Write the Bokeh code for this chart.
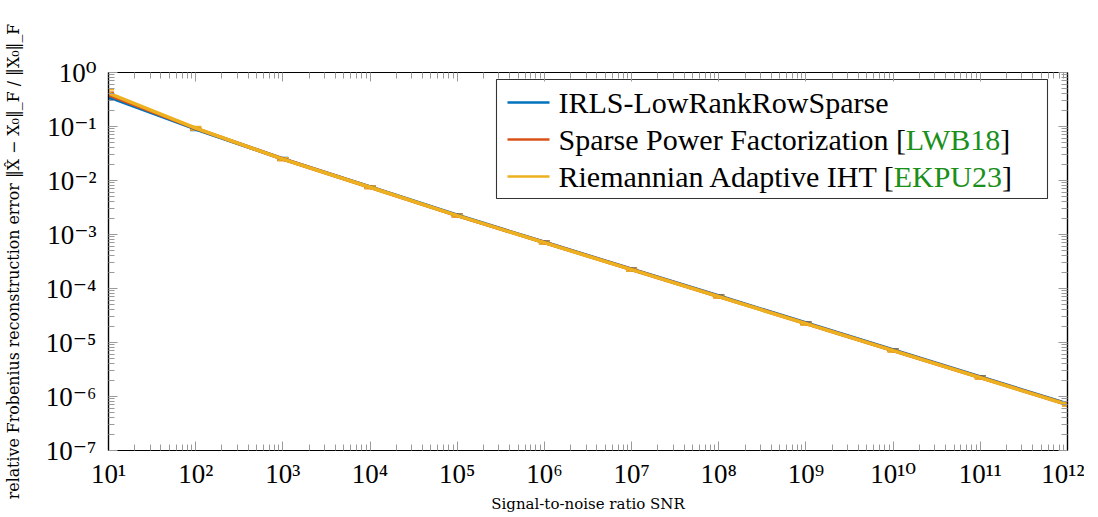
import os
import glob
from bokeh.plotting import figure
from bokeh.models import (Range1d, LogAxis, FixedTicker, CustomJSTickFormatter,
                          Whisker, ColumnDataSource, TeeHead)
from bokeh.core.properties import value
from bokeh.embed import file_html
from bokeh.resources import INLINE

# ---------------- data ----------------
snr = [1e1, 1e2, 1e3, 1e4, 1e5, 1e6, 1e7, 1e8, 1e9, 1e10, 1e11, 1e12]

irls = [0.355, 0.090, 0.0252, 0.0076, 0.00227, 7.2e-4, 2.28e-4, 7.25e-5, 2.3e-5, 7.25e-6, 2.3e-6, 7.3e-7]
irls_err = [0.030, 0.005, 0.0012, 0.0003, 0.00010, 3.0e-5, 1.0e-5, 3.0e-6, 1.0e-6, 3.0e-7, 1.0e-7, 3.0e-8]

spf = [0.385, 0.092, 0.0250, 0.0075, 0.00224, 7.1e-4, 2.25e-4, 7.1e-5, 2.25e-5, 7.1e-6, 2.25e-6, 7.1e-7]
spf_err = [0.040, 0.005, 0.0012, 0.0003, 0.00010, 3.0e-5, 1.0e-5, 3.0e-6, 1.0e-6, 3.0e-7, 1.0e-7, 3.0e-8]

riht = [0.415, 0.093, 0.0249, 0.0075, 0.00223, 7.05e-4, 2.23e-4, 7.05e-5, 2.23e-5, 7.05e-6, 2.23e-6, 7.05e-7]
riht_err = [0.070, 0.006, 0.0013, 0.0003, 0.00010, 3.0e-5, 1.0e-5, 3.0e-6, 1.0e-6, 3.0e-7, 1.0e-7, 3.0e-8]

names = ["IRLS-LowRankRowSparse", "Sparse Power Factorization", "Riemannian Adaptive IHT"]
citations = [None, "LWB18", "EKPU23"]
colors = ["#0072BD", "#D95319", "#EDB120"]

x_ticks = [1e1, 1e2, 1e3, 1e4, 1e5, 1e6, 1e7, 1e8, 1e9, 1e10, 1e11, 1e12]
y_ticks = [1e-7, 1e-6, 1e-5, 1e-4, 1e-3, 1e-2, 1e-1, 1e0]

x_label = "Signal-to-noise ratio SNR"
y_label = "relative Frobenius reconstruction error ‖X̂ − X₀‖_F / ‖X₀‖_F"

# ---------------- layout constants ----------------
FW, FH = 959, 378          # frame size in px
SERIF = "'Liberation Serif', 'DejaVu Serif', serif"
GREEN = "#1a8f1a"


def X(fx):
    return 10 ** (1 + 11 * fx / FW)


def Y(fy):
    return 10 ** (0 - 7 * fy / FH)


def find_font(name):
    for d in ["/usr/share/fonts", "/usr/local/share/fonts",
              os.path.expanduser("~/.fonts"), os.path.expanduser("~/.local/share/fonts")]:
        hits = glob.glob(os.path.join(d, "**", name), recursive=True)
        if hits:
            return hits[0]
    return None


_font_path = find_font("LiberationSerif-Regular.ttf")


def text_width(s, size):
    try:
        from PIL import ImageFont
        if _font_path:
            return ImageFont.truetype(_font_path, size).getlength(s)
    except Exception:
        pass
    return len(s) * 0.46 * size


# ---------------- figure ----------------
p = figure(frame_width=FW, frame_height=FH, x_axis_type="log", y_axis_type="log",
           x_range=Range1d(1e1, 1e12), y_range=Range1d(1e-7, 1e0),
           output_backend="svg", toolbar_location=None,
           min_border_left=106, min_border_right=17, min_border_top=72, min_border_bottom=50)
p.grid.visible = False
p.outline_line_color = "black"
p.outline_line_width = 1.2
p.background_fill_color = "white"
p.border_fill_color = "white"

sup_js = """
const e = Math.round(Math.log10(tick));
const m = {"0":"⁰","1":"¹","2":"²","3":"³","4":"⁴","5":"⁵","6":"⁶","7":"⁷","8":"⁸","9":"⁹","-":"⁻"};
return "10" + String(e).split("").map(c => m[c]).join("");
"""

x_minor = [m * 10 ** k for k in range(1, 12) for m in range(2, 10)]
y_minor = [m * 10.0 ** k for k in range(-7, 0) for m in range(2, 10)]

for ax, major, minor in [(p.xaxis[0], x_ticks, x_minor), (p.yaxis[0], y_ticks, y_minor)]:
    ax.ticker = FixedTicker(ticks=major, minor_ticks=minor)
    ax.formatter = CustomJSTickFormatter(code=sup_js)
    ax.major_label_text_font = SERIF
    ax.major_label_text_font_size = "27px"
    ax.major_label_text_color = "black"
    ax.axis_line_color = "black"
    ax.axis_line_width = 1.2
    ax.major_tick_in = 9
    ax.major_tick_out = 0
    ax.minor_tick_in = 6
    ax.minor_tick_out = 0
    ax.major_tick_line_color = "#9a9a9a"
    ax.minor_tick_line_color = "#9a9a9a"
    ax.axis_label_text_font = "DejaVu Serif"
    ax.axis_label_text_font_style = "normal"
    ax.axis_label_text_color = "black"

p.xaxis[0].axis_label = x_label
p.xaxis[0].axis_label_text_font_size = "15px"
p.xaxis[0].major_label_standoff = 8
p.xaxis[0].axis_label_standoff = 3

p.yaxis[0].axis_label = y_label
p.yaxis[0].axis_label_text_font_size = "15.8px"
p.yaxis[0].major_label_standoff = 12
p.yaxis[0].axis_label_standoff = 20

# mirrored axes (top, right)
for loc, major, minor in [("above", x_ticks, x_minor), ("right", y_ticks, y_minor)]:
    ax = LogAxis(ticker=FixedTicker(ticks=major, minor_ticks=minor),
                 formatter=CustomJSTickFormatter(code="return '';"))
    ax.axis_line_color = "black"
    ax.axis_line_width = 1.2
    ax.major_tick_in = 9
    ax.major_tick_out = 0
    ax.minor_tick_in = 6
    ax.minor_tick_out = 0
    ax.major_tick_line_color = "#9a9a9a"
    ax.minor_tick_line_color = "#9a9a9a"
    ax.major_label_text_font_size = "0px"
    ax.major_label_standoff = 0
    p.add_layout(ax, loc)

# ---------------- series ----------------
for vals, errs, col in [(irls, irls_err, colors[0]), (spf, spf_err, colors[1]), (riht, riht_err, colors[2])]:
    src = ColumnDataSource(dict(x=snr, y=vals,
                                lo=[v - e for v, e in zip(vals, errs)],
                                hi=[v + e for v, e in zip(vals, errs)]))
    w = Whisker(base="x", lower="lo", upper="hi", source=src, dimension="height",
                line_color=col, line_width=2,
                upper_head=TeeHead(size=11, line_color=col, line_width=2),
                lower_head=TeeHead(size=11, line_color=col, line_width=2))
    p.add_layout(w)
    p.line("x", "y", source=src, line_color=col, line_width=3.5)

# ---------------- legend (manual, so citations can be green) ----------------
box_l, box_r, box_t, box_b = 388, 939, 7, 126
row_y = [30, 67, 104]
p.quad(left=[X(box_l)], right=[X(box_r)], top=[Y(box_t)], bottom=[Y(box_b)],
       fill_color="white", line_color="#333333", line_width=1.1)
LEG_SIZE = 30
for i, (nm, cit, col) in enumerate(zip(names, citations, colors)):
    yy = Y(row_y[i])
    p.segment(x0=[X(399)], x1=[X(441)], y0=[yy], y1=[yy], line_color=col, line_width=2.6)
    pieces = [(nm if cit is None else nm + " [", "black")]
    if cit is not None:
        pieces += [(cit, GREEN), ("]", "black")]
    off = 0.0
    for txt, c in pieces:
        p.text(x=[X(450)], y=[yy], text=[txt], x_offset=off,
               text_baseline="middle", text_align="left",
               text_font=value(SERIF), text_font_size=f"{LEG_SIZE}px", text_color=c)
        off += text_width(txt, LEG_SIZE)

open("out.html", "w").write(file_html(p, INLINE))
